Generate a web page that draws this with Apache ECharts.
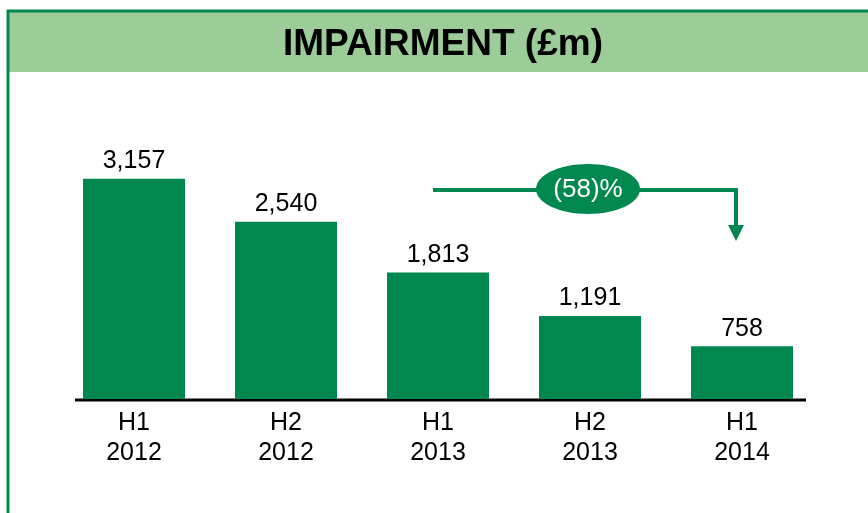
<!DOCTYPE html>
<html>
<head>
<meta charset="utf-8">
<script src="https://cdn.jsdelivr.net/npm/echarts@6/dist/echarts.min.js"></script>
<style>
  html, body { margin: 0; padding: 0; background: #fff; }
  #main { width: 868px; height: 513px; }
</style>
</head>
<body>
<div id="main"></div>
<script>
// categories and values (£m)
var periods = ['H1\n2012', 'H2\n2012', 'H1\n2013', 'H2\n2013', 'H1\n2014'];
var impairment = [3157, 2540, 1813, 1191, 758];
var changeLabel = '(58)%';

var green = '#00884f';
var lightGreen = '#9ccc97';
var font = 'Liberation Sans, Arial, sans-serif';

var myChart = echarts.init(document.getElementById('main'));

myChart.setOption({
  backgroundColor: '#fff',
  animation: false,
  grid: { left: 58, right: 50, top: 120, bottom: 114 },
  xAxis: {
    type: 'category',
    data: periods,
    axisLine: { show: false },
    axisTick: { show: false },
    axisLabel: {
      margin: 9,
      fontFamily: font,
      fontSize: 25,
      lineHeight: 30,
      color: '#000'
    }
  },
  yAxis: {
    type: 'value',
    min: 0,
    max: 4000,
    show: false,
    splitLine: { show: false }
  },
  series: [{
    type: 'bar',
    data: impairment,
    barWidth: 102,
    itemStyle: { color: green },
    label: {
      show: true,
      position: 'top',
      distance: 5,
      fontFamily: font,
      fontSize: 25,
      color: '#000',
      formatter: function (p) {
        return p.value.toLocaleString('en-GB');
      }
    }
  }],
  graphic: [
    // header band, title and frame
    { type: 'rect', z: -10, shape: { x: 9, y: 12, width: 859, height: 60 }, style: { fill: lightGreen } },
    {
      type: 'text', x: 443, y: 45,
      style: {
        text: 'IMPAIRMENT (£m)', fill: '#000', align: 'center', verticalAlign: 'middle',
        fontFamily: font, fontWeight: 'bold', fontSize: 37
      }
    },
    { type: 'line', shape: { x1: 7, y1: 11, x2: 868, y2: 11 }, style: { stroke: green, lineWidth: 3 } },
    { type: 'line', shape: { x1: 8, y1: 10, x2: 8, y2: 513 }, style: { stroke: green, lineWidth: 3 } },
    // baseline
    { type: 'line', shape: { x1: 75, y1: 400, x2: 806, y2: 400 }, style: { stroke: '#000', lineWidth: 3 } },
    // change arrow
    { type: 'polyline', shape: { points: [[433, 190], [736, 190], [736, 227]] }, style: { stroke: green, lineWidth: 4, fill: null } },
    { type: 'polygon', shape: { points: [[728, 225], [744, 225], [736, 241]] }, style: { fill: green } },
    { type: 'ellipse', shape: { cx: 588, cy: 189, rx: 52, ry: 25 }, style: { fill: green } },
    {
      type: 'text', x: 588, y: 190,
      style: {
        text: changeLabel, fill: '#fff', align: 'center', verticalAlign: 'middle',
        fontFamily: font, fontSize: 26
      }
    }
  ]
});
</script>
</body>
</html>
